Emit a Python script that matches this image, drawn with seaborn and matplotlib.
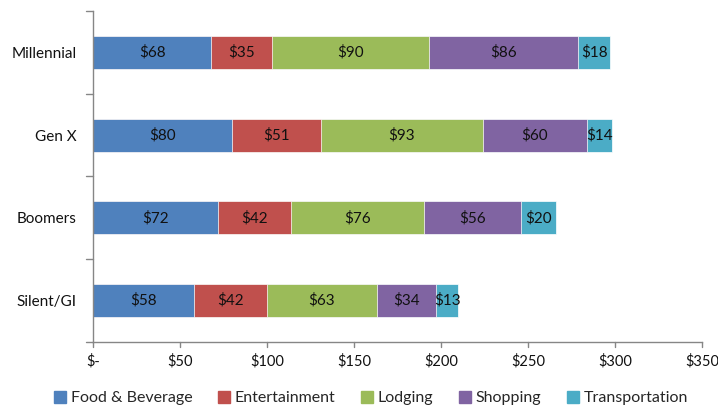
import numpy as np
import pandas as pd
import matplotlib
matplotlib.use("Agg")
import matplotlib.pyplot as plt
import matplotlib.patches as mpatches
import seaborn as sns

# ── Data ────────────────────────────────────────────────────────────────
generations = ["Millennial", "Gen X", "Boomers", "Silent/GI"]
categories = ["Food & Beverage", "Entertainment", "Lodging", "Shopping", "Transportation"]
food = [68, 80, 72, 58]
entertainment = [35, 51, 42, 42]
lodging = [90, 93, 76, 63]
shopping = [86, 60, 56, 34]
transportation = [18, 14, 20, 13]
x_ticks = [0, 50, 100, 150, 200, 250, 300, 350]
x_labels = ["$-", "$50", "$100", "$150", "$200", "$250", "$300", "$350"]

colors = ["#4F81BD", "#C0504D", "#9BBB59", "#8064A2", "#4BACC6"]

df = pd.DataFrame(
    {"Food & Beverage": food, "Entertainment": entertainment, "Lodging": lodging,
     "Shopping": shopping, "Transportation": transportation},
    index=generations,
)
cum = df.cumsum(axis=1)

sns.set_theme(style="white")
plt.rcParams["font.family"] = ["Lato", "DejaVu Sans"]

fig = plt.figure(figsize=(7.18, 4.08), dpi=100)
# plot area: x 93-702 px, y 11-342 px
ax = fig.add_axes([0.1295, 0.1618, 0.8482, 0.8113])

# cumulative totals drawn from the last series backwards so each overlays the next
for cat, col in reversed(list(zip(categories, colors))):
    sns.barplot(x=cum[cat].values, y=generations, color=col, width=0.4,
                orient="h", saturation=1, ax=ax, linewidth=0.5, edgecolor="white")

# value labels centred in each segment
for i, gen in enumerate(generations):
    for cat in categories:
        v = df.loc[gen, cat]
        mid = cum.loc[gen, cat] - v / 2
        ax.text(mid, i, f"${v}", ha="center", va="center", fontsize=11, color="#111111")

ax.set_xlim(0, 350)
ax.set_ylim(3.5, -0.5)
ax.set_xticks(x_ticks)
ax.set_xticklabels(x_labels, fontsize=10.5)
ax.set_yticks(range(len(generations)))
ax.set_yticklabels(generations, fontsize=11)
ax.set_xlabel("")
ax.set_ylabel("")

# gray axes like the spreadsheet chart
for side in ["top", "right"]:
    ax.spines[side].set_visible(False)
for side in ["left", "bottom"]:
    ax.spines[side].set_color("#868686")
    ax.spines[side].set_linewidth(1)

ax.tick_params(axis="y", length=0, pad=12, colors="#111111")
ax.tick_params(axis="x", length=0, pad=9, colors="#111111")
# tick marks between categories and at each dollar step
for yb in np.arange(-0.5, 4, 1):
    ax.plot([-0.011, 0], [yb, yb], transform=ax.get_yaxis_transform(), color="#868686",
            lw=1, clip_on=False)
for xv in x_ticks:
    ax.plot([xv, xv], [-0.014, 0], transform=ax.get_xaxis_transform(), color="#868686",
            lw=1, clip_on=False)

handles = [mpatches.Patch(color=c, label=l) for l, c in zip(categories, colors)]
fig.legend(handles=handles, loc="center", bbox_to_anchor=(0.517, 0.024), ncol=5,
           frameon=False, fontsize=11.5, handlelength=0.75, handleheight=0.75,
           handletextpad=0.3, columnspacing=1.6, borderpad=0)

plt.savefig("out.png", dpi=100)
